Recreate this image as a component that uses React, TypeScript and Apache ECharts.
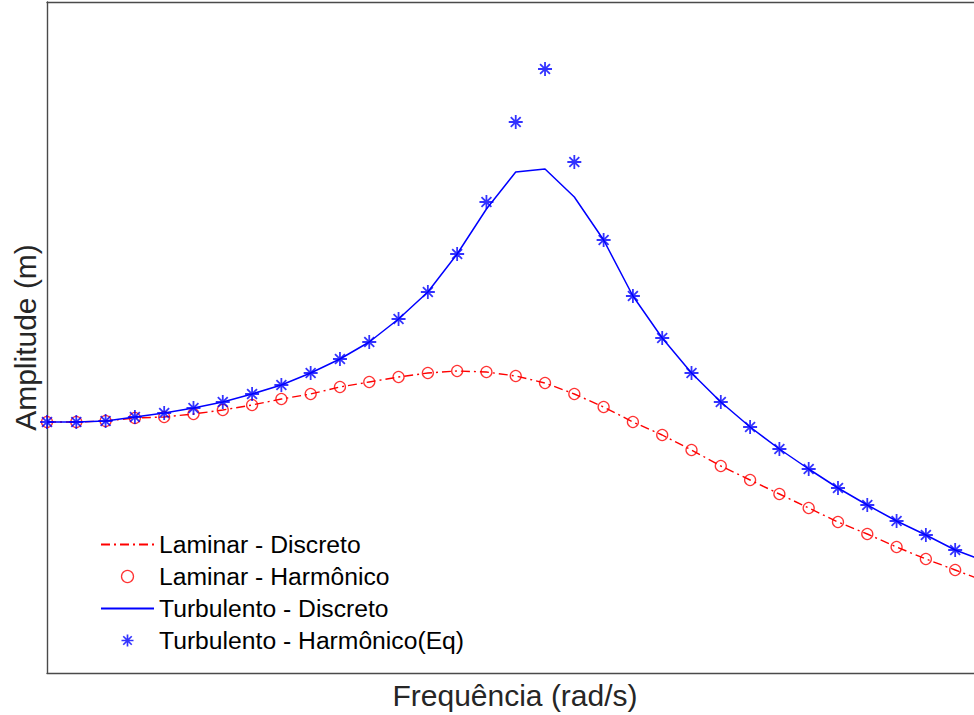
import React, { useEffect, useRef } from "react";
import * as echarts from "echarts";

// Frequency samples (rad/s, arbitrary units; axis has no tick labels)
const freq = [
  0.0, 0.1, 0.2, 0.3, 0.4, 0.5, 0.6, 0.7, 0.8, 0.9, 1.0, 1.1, 1.2, 1.3, 1.4, 1.5,
  1.6, 1.7, 1.8, 1.9, 2.0, 2.1, 2.2, 2.3, 2.4, 2.5, 2.6, 2.7, 2.8, 2.9, 3.0, 3.1, 3.2,
];

// Laminar (discrete line and harmonic markers coincide)
const laminar = [
  2.51, 2.51, 2.52, 2.55, 2.56, 2.59, 2.63, 2.68, 2.74, 2.79, 2.86, 2.91, 2.96, 3.0, 3.02, 3.01,
  2.97, 2.9, 2.79, 2.66, 2.51, 2.38, 2.23, 2.07, 1.93, 1.79, 1.65, 1.51, 1.39, 1.26, 1.14, 1.03, 0.92,
];

// Turbulent - discrete (line)
const turbulentDiscreto = [
  2.51, 2.51, 2.52, 2.56, 2.6, 2.65, 2.71, 2.79, 2.88, 3.0, 3.14, 3.31, 3.54, 3.81, 4.19, 4.64,
  5.01, 5.04, 4.76, 4.33, 3.77, 3.35, 3.0, 2.71, 2.46, 2.24, 2.04, 1.85, 1.68, 1.52, 1.38, 1.23, 1.12,
];

// Turbulent - harmonic (equivalent) markers
const turbulentHarmonico = [
  2.51, 2.51, 2.52, 2.56, 2.6, 2.65, 2.71, 2.79, 2.88, 3.0, 3.14, 3.31, 3.54, 3.81, 4.19, 4.71,
  5.51, 6.04, 5.11, 4.33, 3.77, 3.35, 3.0, 2.71, 2.46, 2.24, 2.04, 1.85, 1.68, 1.52, 1.38, 1.23, 1.12,
];

const seriesNames = [
  "Laminar - Discreto",
  "Laminar - Harmônico",
  "Turbulento - Discreto",
  "Turbulento - Harmônico(Eq)",
];

const STAR = "path://M0,-1L0,1M-1,0L1,0M-0.7071,-0.7071L0.7071,0.7071M-0.7071,0.7071L0.7071,-0.7071";
const FONT = "'Liberation Sans', Arial, Helvetica, sans-serif";
const RED = "#ff0000";
const BLUE = "#0000ff";
const FRAME = "#4a4a4a";
const HIDDEN_SYMBOL = { color: "rgba(0,0,0,0)", borderColor: "rgba(0,0,0,0)", borderWidth: 0, opacity: 0 };

export default function App() {
  const ref = useRef<HTMLDivElement>(null);

  useEffect(() => {
    document.body.style.margin = "0";
    document.body.style.overflow = "hidden";
    const chart = echarts.init(ref.current!, null, { renderer: "svg" });
    const pts = (ys: number[]) => freq.map((f, i) => [f, ys[i]]);

    chart.setOption({
      animation: false,
      backgroundColor: "#ffffff",
      grid: { left: 47, top: 2, bottom: 42, right: 7, containLabel: false },
      legend: {
        orient: "vertical",
        left: 100,
        top: 532,
        padding: 0,
        itemWidth: 53,
        itemHeight: 12,
        itemGap: 7,
        textStyle: { fontSize: 24.7, lineHeight: 24, color: "#000", fontFamily: FONT },
        data: [
          { name: seriesNames[0], itemStyle: HIDDEN_SYMBOL },
          { name: seriesNames[1], itemStyle: { borderWidth: 1.3 } },
          { name: seriesNames[2], itemStyle: HIDDEN_SYMBOL },
          { name: seriesNames[3], itemStyle: { borderWidth: 1.7 } },
        ],
      },
      xAxis: [
        {
          type: "value",
          min: 0,
          max: 3.195,
          name: "Frequência (rad/s)",
          nameLocation: "middle",
          nameGap: 7,
          nameTextStyle: { fontSize: 30, color: "#262626", fontFamily: FONT },
          axisLine: { show: true, onZero: false, lineStyle: { color: FRAME, width: 1.4 } },
          axisTick: { show: false },
          axisLabel: { show: false },
          splitLine: { show: false },
        },
        {
          type: "value",
          position: "top",
          min: 0,
          max: 1,
          axisLine: { show: true, onZero: false, lineStyle: { color: FRAME, width: 1.4 } },
          axisTick: { show: false },
          axisLabel: { show: false },
          splitLine: { show: false },
        },
      ],
      yAxis: {
        type: "value",
        min: 0,
        max: 6.71,
        name: "Amplitude (m)",
        nameLocation: "middle",
        nameGap: 7,
        nameTextStyle: { fontSize: 30, color: "#262626", fontFamily: FONT },
        axisLine: { show: true, onZero: false, lineStyle: { color: FRAME, width: 1.4 } },
        axisTick: { show: false },
        axisLabel: { show: false },
        splitLine: { show: false },
      },
      series: [
        {
          name: seriesNames[0],
          type: "line",
          data: pts(laminar),
          symbol: "none",
          lineStyle: { color: RED, width: 1.4, type: [9, 4, 2, 4] },
          itemStyle: { color: RED },
          clip: true,
          z: 2,
        },
        {
          name: seriesNames[1],
          type: "scatter",
          data: pts(laminar),
          symbol: "circle",
          symbolSize: 11,
          itemStyle: { color: "rgba(0,0,0,0)", borderColor: RED, borderWidth: 1.3 },
          clip: true,
          z: 3,
        },
        {
          name: seriesNames[2],
          type: "line",
          data: pts(turbulentDiscreto),
          symbol: "none",
          lineStyle: { color: BLUE, width: 1.5, type: "solid" },
          itemStyle: { color: BLUE },
          clip: true,
          z: 4,
        },
        {
          name: seriesNames[3],
          type: "scatter",
          data: pts(turbulentHarmonico),
          symbol: STAR,
          symbolSize: 14,
          itemStyle: { color: BLUE, borderColor: BLUE, borderWidth: 1.8 },
          clip: true,
          z: 5,
        },
      ],
    });

    return () => chart.dispose();
  }, []);

  return (
    <div
      ref={ref}
      style={{ position: "absolute", left: 0, top: 0, width: 990, height: 715, background: "#fff" }}
    />
  );
}
